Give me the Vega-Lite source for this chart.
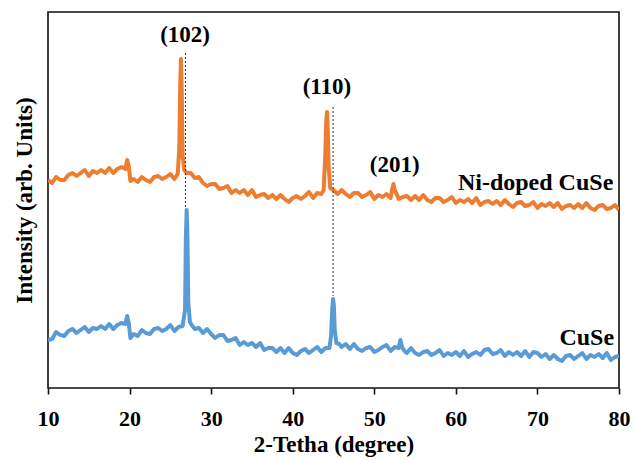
{
"$schema": "https://vega.github.io/schema/vega-lite/v6.json",
"width": 571, "height": 376,
"autosize": {"type": "none"},
"padding": {"left": 48, "top": 12, "right": 15, "bottom": 72},
"background": "white",
"config": {"view": {"stroke": "#111", "strokeWidth": 1.6}, "font": "Liberation Serif"},
"datasets": {
"xrd": [
{"t":10,"i":208,"s":"N"},{"t":10.5,"i":205,"s":"N"},{"t":11,"i":211,"s":"N"},{"t":11.5,"i":208,"s":"N"},{"t":12,"i":208,"s":"N"},{"t":12.5,"i":213,"s":"N"},{"t":13,"i":215,"s":"N"},{"t":13.5,"i":212,"s":"N"},{"t":14,"i":215,"s":"N"},{"t":14.5,"i":218,"s":"N"},{"t":15,"i":212,"s":"N"},{"t":15.5,"i":217,"s":"N"},{"t":16,"i":215,"s":"N"},{"t":16.5,"i":218,"s":"N"},{"t":17,"i":215,"s":"N"},{"t":17.5,"i":220,"s":"N"},{"t":18,"i":215,"s":"N"},{"t":18.5,"i":219,"s":"N"},{"t":19,"i":221,"s":"N"},{"t":19.5,"i":219,"s":"N"},{"t":19.7,"i":228,"s":"N"},{"t":19.9,"i":222,"s":"N"},{"t":20.1,"i":207,"s":"N"},{"t":20.5,"i":209,"s":"N"},{"t":21,"i":206,"s":"N"},{"t":21.5,"i":211,"s":"N"},{"t":22,"i":208,"s":"N"},{"t":22.5,"i":206,"s":"N"},{"t":23,"i":211,"s":"N"},{"t":23.5,"i":212,"s":"N"},{"t":24,"i":209,"s":"N"},{"t":24.5,"i":211,"s":"N"},{"t":25,"i":214,"s":"N"},{"t":25.5,"i":209,"s":"N"},{"t":25.9,"i":214,"s":"N"},{"t":26.1,"i":240,"s":"N"},{"t":26.2,"i":300,"s":"N"},{"t":26.3,"i":329,"s":"N"},{"t":26.4,"i":295,"s":"N"},{"t":26.5,"i":232,"s":"N"},{"t":26.7,"i":218,"s":"N"},{"t":27,"i":215,"s":"N"},{"t":27.5,"i":215,"s":"N"},{"t":28,"i":210,"s":"N"},{"t":28.5,"i":211,"s":"N"},{"t":29,"i":205,"s":"N"},{"t":29.5,"i":202,"s":"N"},{"t":30,"i":204,"s":"N"},{"t":30.5,"i":204,"s":"N"},{"t":31,"i":199,"s":"N"},{"t":31.5,"i":200,"s":"N"},{"t":32,"i":202,"s":"N"},{"t":32.5,"i":195,"s":"N"},{"t":33,"i":198,"s":"N"},{"t":33.5,"i":195,"s":"N"},{"t":34,"i":198,"s":"N"},{"t":34.5,"i":193,"s":"N"},{"t":35,"i":198,"s":"N"},{"t":35.5,"i":191,"s":"N"},{"t":36,"i":193,"s":"N"},{"t":36.5,"i":194,"s":"N"},{"t":37,"i":190,"s":"N"},{"t":37.5,"i":193,"s":"N"},{"t":38,"i":189,"s":"N"},{"t":38.5,"i":193,"s":"N"},{"t":39,"i":189,"s":"N"},{"t":39.5,"i":186,"s":"N"},{"t":40,"i":190,"s":"N"},{"t":40.5,"i":192,"s":"N"},{"t":41,"i":189,"s":"N"},{"t":41.5,"i":192,"s":"N"},{"t":42,"i":196,"s":"N"},{"t":42.5,"i":190,"s":"N"},{"t":43,"i":195,"s":"N"},{"t":43.5,"i":194,"s":"N"},{"t":43.8,"i":198,"s":"N"},{"t":44,"i":235,"s":"N"},{"t":44.1,"i":265,"s":"N"},{"t":44.2,"i":276,"s":"N"},{"t":44.3,"i":258,"s":"N"},{"t":44.4,"i":222,"s":"N"},{"t":44.6,"i":200,"s":"N"},{"t":45,"i":198,"s":"N"},{"t":45.5,"i":194,"s":"N"},{"t":46,"i":198,"s":"N"},{"t":46.5,"i":194,"s":"N"},{"t":47,"i":191,"s":"N"},{"t":47.5,"i":195,"s":"N"},{"t":48,"i":195,"s":"N"},{"t":48.5,"i":191,"s":"N"},{"t":49,"i":193,"s":"N"},{"t":49.5,"i":196,"s":"N"},{"t":50,"i":189,"s":"N"},{"t":50.5,"i":193,"s":"N"},{"t":51,"i":191,"s":"N"},{"t":51.5,"i":194,"s":"N"},{"t":52,"i":190,"s":"N"},{"t":52.2,"i":199,"s":"N"},{"t":52.35,"i":204,"s":"N"},{"t":52.5,"i":198,"s":"N"},{"t":52.8,"i":193,"s":"N"},{"t":53,"i":189,"s":"N"},{"t":53.5,"i":191,"s":"N"},{"t":54,"i":192,"s":"N"},{"t":54.5,"i":188,"s":"N"},{"t":55,"i":192,"s":"N"},{"t":55.5,"i":188,"s":"N"},{"t":56,"i":193,"s":"N"},{"t":56.5,"i":188,"s":"N"},{"t":57,"i":186,"s":"N"},{"t":57.5,"i":190,"s":"N"},{"t":58,"i":190,"s":"N"},{"t":58.5,"i":186,"s":"N"},{"t":59,"i":188,"s":"N"},{"t":59.5,"i":191,"s":"N"},{"t":60,"i":185,"s":"N"},{"t":60.5,"i":188,"s":"N"},{"t":61,"i":186,"s":"N"},{"t":61.5,"i":189,"s":"N"},{"t":62,"i":185,"s":"N"},{"t":62.5,"i":190,"s":"N"},{"t":63,"i":183,"s":"N"},{"t":63.5,"i":186,"s":"N"},{"t":64,"i":187,"s":"N"},{"t":64.5,"i":184,"s":"N"},{"t":65,"i":187,"s":"N"},{"t":65.5,"i":183,"s":"N"},{"t":66,"i":188,"s":"N"},{"t":66.5,"i":184,"s":"N"},{"t":67,"i":181,"s":"N"},{"t":67.5,"i":185,"s":"N"},{"t":68,"i":186,"s":"N"},{"t":68.5,"i":182,"s":"N"},{"t":69,"i":183,"s":"N"},{"t":69.5,"i":186,"s":"N"},{"t":70,"i":180,"s":"N"},{"t":70.5,"i":184,"s":"N"},{"t":71,"i":182,"s":"N"},{"t":71.5,"i":185,"s":"N"},{"t":72,"i":181,"s":"N"},{"t":72.5,"i":185,"s":"N"},{"t":73,"i":179,"s":"N"},{"t":73.5,"i":182,"s":"N"},{"t":74,"i":183,"s":"N"},{"t":74.5,"i":180,"s":"N"},{"t":75,"i":184,"s":"N"},{"t":75.5,"i":180,"s":"N"},{"t":76,"i":185,"s":"N"},{"t":76.5,"i":180,"s":"N"},{"t":77,"i":178,"s":"N"},{"t":77.5,"i":182,"s":"N"},{"t":78,"i":183,"s":"N"},{"t":78.5,"i":179,"s":"N"},{"t":79,"i":180,"s":"N"},{"t":79.5,"i":183,"s":"N"},{"t":80,"i":178,"s":"N"},
{"t":10,"i":48,"s":"C"},{"t":10.5,"i":49,"s":"C"},{"t":11,"i":56,"s":"C"},{"t":11.5,"i":53,"s":"C"},{"t":12,"i":52,"s":"C"},{"t":12.5,"i":57,"s":"C"},{"t":13,"i":59,"s":"C"},{"t":13.5,"i":55,"s":"C"},{"t":14,"i":58,"s":"C"},{"t":14.5,"i":61,"s":"C"},{"t":15,"i":56,"s":"C"},{"t":15.5,"i":60,"s":"C"},{"t":16,"i":59,"s":"C"},{"t":16.5,"i":62,"s":"C"},{"t":17,"i":59,"s":"C"},{"t":17.5,"i":64,"s":"C"},{"t":18,"i":59,"s":"C"},{"t":18.5,"i":63,"s":"C"},{"t":19,"i":65,"s":"C"},{"t":19.5,"i":64,"s":"C"},{"t":19.7,"i":72,"s":"C"},{"t":19.9,"i":65,"s":"C"},{"t":20.1,"i":50,"s":"C"},{"t":20.5,"i":54,"s":"C"},{"t":21,"i":52,"s":"C"},{"t":21.5,"i":58,"s":"C"},{"t":22,"i":55,"s":"C"},{"t":22.5,"i":54,"s":"C"},{"t":23,"i":59,"s":"C"},{"t":23.5,"i":60,"s":"C"},{"t":24,"i":57,"s":"C"},{"t":24.5,"i":59,"s":"C"},{"t":25,"i":63,"s":"C"},{"t":25.5,"i":57,"s":"C"},{"t":26,"i":61,"s":"C"},{"t":26.5,"i":62,"s":"C"},{"t":26.8,"i":78,"s":"C"},{"t":26.9,"i":150,"s":"C"},{"t":27,"i":178,"s":"C"},{"t":27.1,"i":148,"s":"C"},{"t":27.2,"i":85,"s":"C"},{"t":27.4,"i":66,"s":"C"},{"t":27.7,"i":62,"s":"C"},{"t":28,"i":59,"s":"C"},{"t":28.5,"i":60,"s":"C"},{"t":29,"i":55,"s":"C"},{"t":29.5,"i":59,"s":"C"},{"t":30,"i":54,"s":"C"},{"t":30.5,"i":50,"s":"C"},{"t":31,"i":53,"s":"C"},{"t":31.5,"i":53,"s":"C"},{"t":32,"i":47,"s":"C"},{"t":32.5,"i":48,"s":"C"},{"t":33,"i":50,"s":"C"},{"t":33.5,"i":43,"s":"C"},{"t":34,"i":46,"s":"C"},{"t":34.5,"i":43,"s":"C"},{"t":35,"i":45,"s":"C"},{"t":35.5,"i":41,"s":"C"},{"t":36,"i":45,"s":"C"},{"t":36.5,"i":38,"s":"C"},{"t":37,"i":40,"s":"C"},{"t":37.5,"i":40,"s":"C"},{"t":38,"i":36,"s":"C"},{"t":38.5,"i":40,"s":"C"},{"t":39,"i":35,"s":"C"},{"t":39.5,"i":40,"s":"C"},{"t":40,"i":35,"s":"C"},{"t":40.5,"i":33,"s":"C"},{"t":41,"i":37,"s":"C"},{"t":41.5,"i":39,"s":"C"},{"t":42,"i":35,"s":"C"},{"t":42.5,"i":38,"s":"C"},{"t":43,"i":41,"s":"C"},{"t":43.5,"i":36,"s":"C"},{"t":44,"i":40,"s":"C"},{"t":44.5,"i":40,"s":"C"},{"t":44.7,"i":52,"s":"C"},{"t":44.85,"i":80,"s":"C"},{"t":44.95,"i":89,"s":"C"},{"t":45.05,"i":82,"s":"C"},{"t":45.15,"i":58,"s":"C"},{"t":45.35,"i":45,"s":"C"},{"t":45.7,"i":44,"s":"C"},{"t":46,"i":41,"s":"C"},{"t":46.5,"i":44,"s":"C"},{"t":47,"i":39,"s":"C"},{"t":47.5,"i":44,"s":"C"},{"t":48,"i":39,"s":"C"},{"t":48.5,"i":37,"s":"C"},{"t":49,"i":40,"s":"C"},{"t":49.5,"i":41,"s":"C"},{"t":50,"i":36,"s":"C"},{"t":50.5,"i":38,"s":"C"},{"t":51,"i":41,"s":"C"},{"t":51.5,"i":43,"s":"C"},{"t":52,"i":37,"s":"C"},{"t":52.5,"i":41,"s":"C"},{"t":53,"i":40,"s":"C"},{"t":53.2,"i":48,"s":"C"},{"t":53.4,"i":41,"s":"C"},{"t":53.7,"i":37,"s":"C"},{"t":54,"i":35,"s":"C"},{"t":54.5,"i":40,"s":"C"},{"t":55,"i":35,"s":"C"},{"t":55.5,"i":33,"s":"C"},{"t":56,"i":36,"s":"C"},{"t":56.5,"i":37,"s":"C"},{"t":57,"i":33,"s":"C"},{"t":57.5,"i":35,"s":"C"},{"t":58,"i":38,"s":"C"},{"t":58.5,"i":32,"s":"C"},{"t":59,"i":35,"s":"C"},{"t":59.5,"i":33,"s":"C"},{"t":60,"i":36,"s":"C"},{"t":60.5,"i":32,"s":"C"},{"t":61,"i":37,"s":"C"},{"t":61.5,"i":31,"s":"C"},{"t":62,"i":34,"s":"C"},{"t":62.5,"i":36,"s":"C"},{"t":63,"i":33,"s":"C"},{"t":63.5,"i":38,"s":"C"},{"t":64,"i":39,"s":"C"},{"t":64.5,"i":34,"s":"C"},{"t":65,"i":35,"s":"C"},{"t":65.5,"i":38,"s":"C"},{"t":66,"i":32,"s":"C"},{"t":66.5,"i":36,"s":"C"},{"t":67,"i":33,"s":"C"},{"t":67.5,"i":36,"s":"C"},{"t":68,"i":32,"s":"C"},{"t":68.5,"i":37,"s":"C"},{"t":69,"i":31,"s":"C"},{"t":69.5,"i":36,"s":"C"},{"t":70,"i":35,"s":"C"},{"t":70.5,"i":31,"s":"C"},{"t":71,"i":34,"s":"C"},{"t":71.5,"i":29,"s":"C"},{"t":72,"i":33,"s":"C"},{"t":72.5,"i":29,"s":"C"},{"t":73,"i":27,"s":"C"},{"t":73.5,"i":32,"s":"C"},{"t":74,"i":33,"s":"C"},{"t":74.5,"i":29,"s":"C"},{"t":75,"i":32,"s":"C"},{"t":75.5,"i":35,"s":"C"},{"t":76,"i":29,"s":"C"},{"t":76.5,"i":33,"s":"C"},{"t":77,"i":31,"s":"C"},{"t":77.5,"i":34,"s":"C"},{"t":78,"i":30,"s":"C"},{"t":78.5,"i":35,"s":"C"},{"t":79,"i":28,"s":"C"},{"t":79.5,"i":31,"s":"C"},{"t":80,"i":32,"s":"C"}
],
"refs": [{"t":26.85,"top":335,"bot":180},{"t":44.95,"top":281,"bot":92}],
"hkl": [{"t":26.8,"i":353,"txt":"(102)"},{"t":44.2,"i":301,"txt":"(110)"},{"t":52.5,"i":223,"txt":"(201)"}],
"names": [{"t":79.3,"i":205,"txt":"Ni-doped CuSe"},{"t":79.4,"i":50,"txt":"CuSe"}]
},
"layer": [
{
"data": {"name": "xrd"},
"mark": {"type": "line", "strokeWidth": 4, "strokeJoin": "round", "clip": true},
"encoding": {
"x": {"field": "t", "type": "quantitative",
"scale": {"domain": [10, 80], "nice": false, "zero": false},
"axis": {"title": "2-Tetha (degree)", "values": [10,20,30,40,50,60,70,80], "grid": false, "labelFlush": false,
"domain": false, "tickColor": "#111", "tickWidth": 1.6, "tickSize": 6,
"labelFont": "Liberation Serif", "labelFontWeight": "bold", "labelFontSize": 22, "labelColor": "#000", "labelPadding": 14,
"titleFont": "Liberation Serif", "titleFontWeight": "bold", "titleFontSize": 23, "titleColor": "#000", "titlePadding": 4}},
"y": {"field": "i", "type": "quantitative",
"scale": {"domain": [0, 376], "nice": false},
"axis": {"title": "Intensity (arb. Units)", "labels": false, "ticks": false, "domain": false, "grid": false,
"titleFont": "Liberation Serif", "titleFontWeight": "bold", "titleFontSize": 23, "titleColor": "#000", "titlePadding": 12}},
"color": {"field": "s", "type": "nominal", "scale": {"domain": ["N", "C"], "range": ["#ED7D31", "#5B9BD5"]}, "legend": null}
}
},
{
"data": {"name": "refs"},
"mark": {"type": "rule", "color": "#333", "strokeWidth": 1, "strokeDash": [2, 2]},
"encoding": {
"x": {"field": "t", "type": "quantitative"},
"y": {"field": "top", "type": "quantitative"},
"y2": {"field": "bot"}
}
},
{
"data": {"name": "hkl"},
"mark": {"type": "text", "font": "Liberation Serif", "fontWeight": "bold", "fontSize": 23, "color": "#000", "align": "center", "baseline": "middle"},
"encoding": {
"x": {"field": "t", "type": "quantitative"},
"y": {"field": "i", "type": "quantitative"},
"text": {"field": "txt"}
}
},
{
"data": {"name": "names"},
"mark": {"type": "text", "font": "Liberation Serif", "fontWeight": "bold", "fontSize": 24, "color": "#000", "align": "right", "baseline": "middle"},
"encoding": {
"x": {"field": "t", "type": "quantitative"},
"y": {"field": "i", "type": "quantitative"},
"text": {"field": "txt"}
}
}
]
}
